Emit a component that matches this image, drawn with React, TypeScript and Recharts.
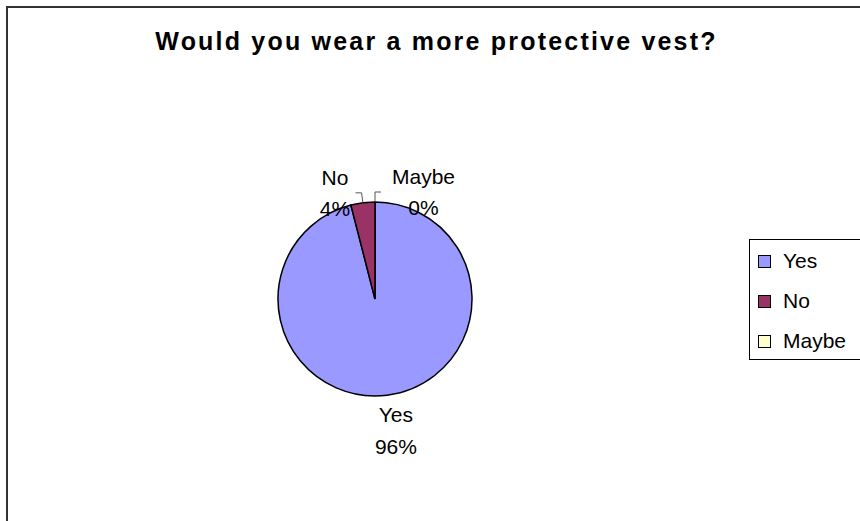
import React from 'react';
import { PieChart, Pie, Cell, Legend } from 'recharts';

const categories = ['Yes', 'No', 'Maybe'];
const values = [96, 4, 0];
const colors = ['#9999FF', '#993366', '#FFFFCC'];
const title = 'Would you wear a more protective vest?';

const data = categories.map((name, i) => ({ name, value: values[i] }));

const FONT = '"Liberation Sans", Arial, sans-serif';
const LABEL_FS = 21;
const LINE_H = 31;

const renderLabel = (props: any) => {
  const { cx, cy, midAngle, outerRadius, percent, name } = props;
  const rad = (-midAngle * Math.PI) / 180;
  const cos = Math.cos(rad);
  const sin = Math.sin(rad);
  const lines = [name, `${Math.round(percent * 100)}%`];
  const blockW = Math.max(...lines.map((l: string) => l.length)) * LABEL_FS * 0.6;
  if (percent < 0.1) {
    const x0 = cx + outerRadius * cos;
    const y0 = cy + outerRadius * sin;
    const x1 = cx + (outerRadius + 10) * cos;
    const y1 = cy + (outerRadius + 10) * sin;
    const side = cos < -1e-6 ? -1 : 1;
    const x2 = x1 + side * 6;
    const bx = x2 + side * (blockW / 2 + (side > 0 ? 11 : 8));
    return (
      <g>
        <polyline points={`${x0},${y0} ${x1},${y1} ${x2},${y1}`} fill="none" stroke="#555" strokeWidth={1} />
        {lines.map((l: string, i: number) => (
          <text key={i} x={bx} y={y1 + (i - 0.5) * LINE_H} textAnchor="middle" dominantBaseline="central"
            fontFamily={FONT} fontSize={LABEL_FS} fill="#000">{l}</text>
        ))}
      </g>
    );
  }
  const R = outerRadius + 3;
  const x = cx + R * cos + cos * blockW / 2 + 6;
  const y = cy + R * sin;
  const topY = sin >= 0 ? y : y - 2 * LINE_H;
  return (
    <g>
      {lines.map((l: string, i: number) => (
        <text key={i} x={x} y={topY + (i + 0.5) * (LINE_H + 1)} textAnchor="middle" dominantBaseline="central"
          fontFamily={FONT} fontSize={LABEL_FS} fill="#000">{l}</text>
      ))}
    </g>
  );
};

const renderLegend = () => (
  <div style={{ border: '1px solid #000', borderRight: 'none', width: 130, height: 121, boxSizing: 'border-box', paddingTop: 1, fontFamily: FONT }}>
    {categories.map((c, i) => (
      <div key={c} style={{ display: 'flex', alignItems: 'center', height: 40, paddingLeft: 8 }}>
        <div style={{ width: 11, height: 11, background: colors[i], border: '1.5px solid #000', marginRight: 12 }} />
        <span style={{ fontSize: 21, color: '#000' }}>{c}</span>
      </div>
    ))}
  </div>
);

export default function App() {
  return (
    <div style={{ position: 'absolute', left: 0, top: 0, width: 860, height: 521, overflow: 'hidden', background: '#fff' }}>
      <div style={{ position: 'absolute', left: 6, top: 6, width: 900, height: 600, border: '2px solid #333' }} />
      <div style={{ position: 'absolute', left: 0, top: 29, width: 873, lineHeight: '25px', textAlign: 'center', fontFamily: FONT, fontWeight: 'bold', fontSize: 25, letterSpacing: 2.2, color: '#000', whiteSpace: 'nowrap' }}>
        {title}
      </div>
      <div style={{ position: 'absolute', left: 0, top: 0 }}>
        <PieChart width={860} height={521}>
          <Pie data={data} dataKey="value" nameKey="name" cx={370} cy={294} outerRadius={97}
            startAngle={90} endAngle={-270} stroke="#000" strokeWidth={1.5}
            label={renderLabel} labelLine={false} isAnimationActive={false}>
            {data.map((d, i) => (
              <Cell key={d.name} fill={colors[i]} />
            ))}
          </Pie>
          <Legend content={renderLegend} wrapperStyle={{ position: 'absolute', left: 749, top: 239, width: 130 }} />
        </PieChart>
      </div>
    </div>
  );
}
